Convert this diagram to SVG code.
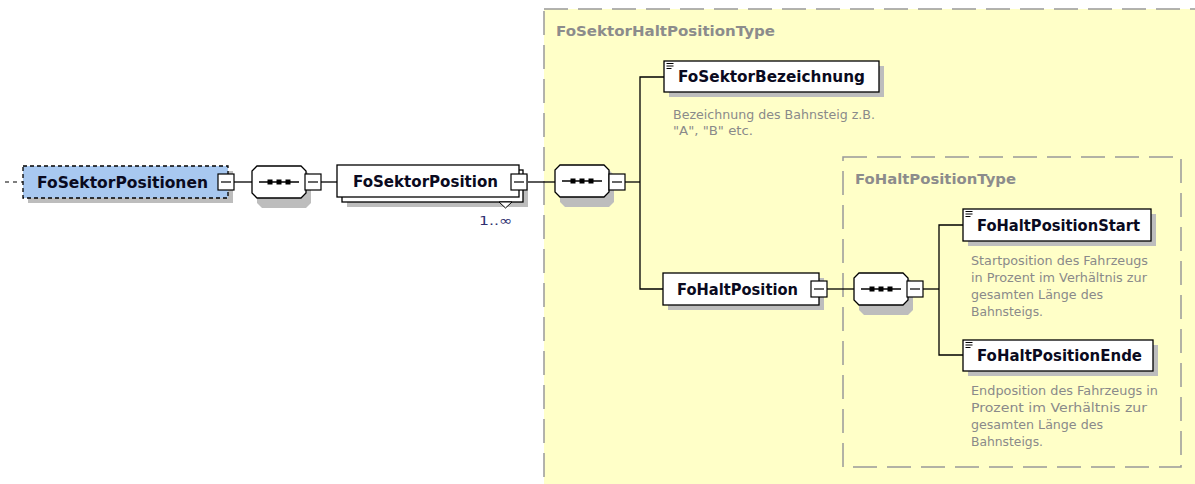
<svg xmlns="http://www.w3.org/2000/svg" width="1195" height="484" viewBox="0 0 1195 484">
<defs>
<style>
.el{fill:#fff;stroke:#000;stroke-width:1.3}
.sh{fill:#bdbdbd}
.nm{font-family:"DejaVu Sans",sans-serif;font-weight:bold;font-size:15px;fill:#0a0a20}
.ty{font-family:"DejaVu Sans",sans-serif;font-weight:bold;font-size:13.5px;fill:#8c8c8c}
.ds{font-family:"DejaVu Sans",sans-serif;font-size:12px;fill:#8a8a8a}
.ln{stroke:#000;stroke-width:1.3;fill:none}
.mb{fill:#fff;stroke:#000;stroke-width:1.2}
.tb{fill:#ffffc8;stroke:#999;stroke-width:1.5;stroke-dasharray:24 10}
</style>
<g id="minus"><rect class="mb" x="0" y="0" width="16" height="16"/><line x1="3" y1="8" x2="13" y2="8" stroke="#000" stroke-width="1.2"/></g>
<g id="seq">
<polygon points="13,5 57,5 62,10 62,37 57,42 13,42 8,37 8,10" class="sh"/>
<polygon points="8,0 52,0 57,5 57,27 52,32 8,32 3,27 3,5" fill="#fff" stroke="#000" stroke-width="1.3"/>
<line x1="10" y1="16" x2="50" y2="16" stroke="#000" stroke-width="1.3"/>
<rect x="18.5" y="13.5" width="5" height="5" fill="#000"/><rect x="27.5" y="13.5" width="5" height="5" fill="#000"/><rect x="36.5" y="13.5" width="5" height="5" fill="#000"/>
</g>
<g id="doc"><line x1="0" y1="0" x2="7" y2="0" stroke="#000" stroke-width="1"/><line x1="0" y1="2.5" x2="7" y2="2.5" stroke="#000" stroke-width="1"/><line x1="0" y1="5" x2="5" y2="5" stroke="#000" stroke-width="1"/></g>
</defs>
<rect width="1195" height="484" fill="#fff"/>

<g id="FoSektorHaltPositionType">
<rect class="tb" x="544" y="9" width="700" height="520"/>
<text class="ty" x="556" y="36" textLength="219" lengthAdjust="spacingAndGlyphs">FoSektorHaltPositionType</text>
</g>
<g id="FoHaltPositionType">
<rect class="tb" x="843" y="157" width="338" height="310"/>
<text class="ty" x="855" y="184" textLength="161" lengthAdjust="spacingAndGlyphs">FoHaltPositionType</text>
</g>

<g id="connectors">
<line x1="5" y1="182" x2="23" y2="182" stroke="#000" stroke-width="1.2" stroke-dasharray="4 4"/>
<line class="ln" x1="234" y1="182" x2="252" y2="182"/>
<line class="ln" x1="321" y1="182" x2="337" y2="182"/>
<line class="ln" x1="527" y1="182" x2="555" y2="182"/>
<polyline class="ln" points="664,77 640,77 640,289 663,289"/>
<line class="ln" x1="625" y1="182" x2="640" y2="182"/>
<line class="ln" x1="827" y1="289" x2="854" y2="289"/>
<polyline class="ln" points="963,225 939,225 939,355 963,355"/>
<line class="ln" x1="923" y1="289" x2="939" y2="289"/>
</g>

<g id="n-FoSektorPositionen">
<rect class="sh" x="28" y="171" width="205" height="32"/>
<rect x="23" y="166" width="205" height="32" fill="#a8c8f0" stroke="#000" stroke-width="1.3" stroke-dasharray="4 3"/>
<text class="nm" x="37" y="187.5" textLength="171" lengthAdjust="spacingAndGlyphs">FoSektorPositionen</text>
<use href="#minus" x="218" y="174"/>
</g>

<g id="n-seq1"><use href="#seq" x="249" y="166"/><use href="#minus" x="305" y="174"/></g>

<g id="n-FoSektorPosition">
<rect class="sh" x="347" y="175" width="181" height="32"/>
<rect class="el" x="342" y="170" width="181" height="32"/>
<rect class="el" x="337" y="165" width="182" height="32"/>
<polygon points="499,202 512,202 505.5,208" fill="#fff" stroke="#000" stroke-width="1"/>
<text class="nm" x="353" y="186.5" textLength="145" lengthAdjust="spacingAndGlyphs">FoSektorPosition</text>
<use href="#minus" x="511" y="174"/>
<text x="479" y="225" font-family="DejaVu Sans,sans-serif" font-size="13" fill="#303070" textLength="33" lengthAdjust="spacingAndGlyphs">1..∞</text>
</g>

<g id="n-seq2"><use href="#seq" x="552" y="165"/><use href="#minus" x="609" y="174"/></g>

<g id="n-FoSektorBezeichnung">
<rect class="sh" x="669" y="66" width="215" height="31"/>
<rect class="el" x="664" y="61" width="215" height="31"/>
<use href="#doc" x="666.5" y="63.5"/>
<text class="nm" x="678" y="82" textLength="187" lengthAdjust="spacingAndGlyphs">FoSektorBezeichnung</text>
<text class="ds" x="673" y="119" textLength="202" lengthAdjust="spacingAndGlyphs">Bezeichnung des Bahnsteig z.B.</text>
<text class="ds" x="673" y="135" textLength="80" lengthAdjust="spacingAndGlyphs">"A", "B" etc.</text>
</g>

<g id="n-FoHaltPosition">
<rect class="sh" x="668" y="278" width="156" height="32"/>
<rect class="el" x="663" y="273" width="156" height="32"/>
<text class="nm" x="677" y="294.5" textLength="121" lengthAdjust="spacingAndGlyphs">FoHaltPosition</text>
<use href="#minus" x="811" y="281"/>
</g>

<g id="n-seq3"><use href="#seq" x="851" y="273"/><use href="#minus" x="907" y="281"/></g>

<g id="n-FoHaltPositionStart">
<rect class="sh" x="968" y="214" width="188" height="32"/>
<rect class="el" x="963" y="209" width="188" height="32"/>
<use href="#doc" x="965.5" y="211.5"/>
<text class="nm" x="977" y="230.5" textLength="163" lengthAdjust="spacingAndGlyphs">FoHaltPositionStart</text>
<text class="ds" x="971" y="265" textLength="177" lengthAdjust="spacingAndGlyphs">Startposition des Fahrzeugs</text>
<text class="ds" x="971" y="282" textLength="176" lengthAdjust="spacingAndGlyphs">in Prozent im Verhältnis zur</text>
<text class="ds" x="971" y="299" textLength="132" lengthAdjust="spacingAndGlyphs">gesamten Länge des</text>
<text class="ds" x="971" y="316" textLength="72" lengthAdjust="spacingAndGlyphs">Bahnsteigs.</text>
</g>

<g id="n-FoHaltPositionEnde">
<rect class="sh" x="968" y="345" width="190" height="31"/>
<rect class="el" x="963" y="340" width="190" height="31"/>
<use href="#doc" x="965.5" y="342.5"/>
<text class="nm" x="977" y="361" textLength="165" lengthAdjust="spacingAndGlyphs">FoHaltPositionEnde</text>
<text class="ds" x="971" y="395" textLength="187" lengthAdjust="spacingAndGlyphs">Endposition des Fahrzeugs in</text>
<text class="ds" x="971" y="412" textLength="176" lengthAdjust="spacingAndGlyphs">Prozent im Verhältnis zur</text>
<text class="ds" x="971" y="429" textLength="132" lengthAdjust="spacingAndGlyphs">gesamten Länge des</text>
<text class="ds" x="971" y="446" textLength="72" lengthAdjust="spacingAndGlyphs">Bahnsteigs.</text>
</g>
</svg>
